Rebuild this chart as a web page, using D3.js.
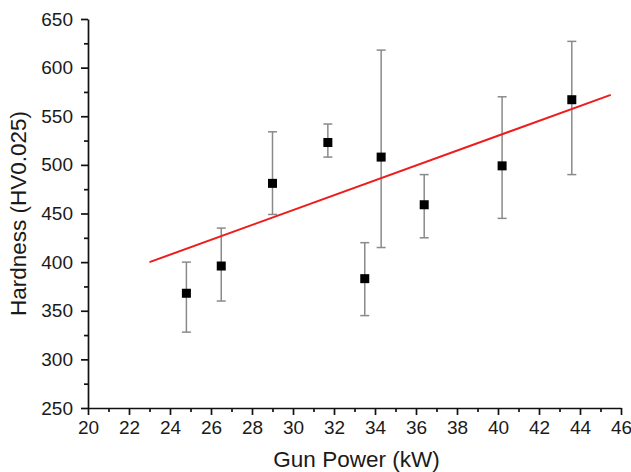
<!DOCTYPE html>
<html>
<head>
<meta charset="utf-8">
<script src="https://cdn.jsdelivr.net/npm/d3@7"></script>
<style>
  body { margin: 0; background: #fff; }
  svg { display: block; font-family: "Liberation Sans", Arial, sans-serif; }
</style>
</head>
<body>
<div id="container"></div>
<script>
// data
const gunPower = [24.8, 26.5, 29.0, 31.7, 33.5, 34.3, 36.4, 40.2, 43.6];
const hardness = [368, 396, 481, 523, 383, 508, 459, 499, 567];
const errLow   = [328, 360, 449, 508, 345, 415, 425, 445, 490];
const errHigh  = [400, 435, 534, 542, 420, 618, 490, 570, 627];
const fitX = [23, 45.5];
const fitY = [400, 572];
const xTicks = d3.range(20, 47, 2);
const yTicks = d3.range(250, 651, 50);

// layout
const width = 631, height = 472;
const margin = {left: 88, right: 10, top: 19, bottom: 64};

const x = d3.scaleLinear().domain([20, 46]).range([margin.left, 621]);
const y = d3.scaleLinear().domain([250, 650]).range([408, margin.top]);

const svg = d3.select("#container").append("svg")
  .attr("width", width)
  .attr("height", height);

// minor ticks
svg.append("g")
  .attr("transform", `translate(0,${y(250)})`)
  .call(d3.axisBottom(x).tickValues(d3.range(21, 46, 2)).tickSize(4).tickFormat(""))
  .call(g => g.select(".domain").remove());
svg.append("g")
  .attr("transform", `translate(${x(20)},0)`)
  .call(d3.axisLeft(y).tickValues(d3.range(275, 650, 50)).tickSize(4).tickFormat(""))
  .call(g => g.select(".domain").remove());

// major axes
const xAxis = svg.append("g")
  .attr("transform", `translate(0,${y(250)})`)
  .call(d3.axisBottom(x).tickValues(xTicks).tickSize(7).tickSizeOuter(0).tickPadding(6));
const yAxis = svg.append("g")
  .attr("transform", `translate(${x(20)},0)`)
  .call(d3.axisLeft(y).tickValues(yTicks).tickSize(7).tickSizeOuter(0).tickPadding(8));

[xAxis, yAxis].forEach(g => {
  g.selectAll("text").attr("font-size", 19).attr("fill", "#1a1a1a")
    .attr("font-family", "'Liberation Sans', Arial, sans-serif");
});
svg.selectAll("g line, g path").attr("stroke", "#111").attr("stroke-width", 1.7);

// axis titles
svg.append("text")
  .attr("x", (x(20) + x(46)) / 2 + 2)
  .attr("y", 467)
  .attr("text-anchor", "middle")
  .attr("font-size", 22.5)
  .attr("fill", "#1a1a1a")
  .text("Gun Power (kW)");

svg.append("text")
  .attr("transform", `translate(26,${(y(250) + y(650)) / 2}) rotate(-90)`)
  .attr("text-anchor", "middle")
  .attr("font-size", 22.5)
  .attr("fill", "#1a1a1a")
  .text("Hardness (HV0.025)");

// error bars
const pts = gunPower.map((g, i) => ({x: g, y: hardness[i], lo: errLow[i], hi: errHigh[i]}));
const bars = svg.append("g").attr("stroke", "#8a8a8a").attr("stroke-width", 1.5);
bars.selectAll("line.v").data(pts).enter().append("line")
  .attr("x1", d => x(d.x)).attr("x2", d => x(d.x))
  .attr("y1", d => y(d.lo)).attr("y2", d => y(d.hi));
bars.selectAll("line.cap").data(pts.flatMap(d => [[d.x, d.lo], [d.x, d.hi]])).enter().append("line")
  .attr("x1", d => x(d[0]) - 4.5).attr("x2", d => x(d[0]) + 4.5)
  .attr("y1", d => y(d[1])).attr("y2", d => y(d[1]));

// fit line
svg.append("line")
  .attr("x1", x(fitX[0])).attr("y1", y(fitY[0]))
  .attr("x2", x(fitX[1])).attr("y2", y(fitY[1]))
  .attr("stroke", "#ee1c1c")
  .attr("stroke-width", 2);

// markers
svg.append("g").selectAll("rect").data(pts).enter().append("rect")
  .attr("x", d => x(d.x) - 4.5)
  .attr("y", d => y(d.y) - 4.5)
  .attr("width", 9).attr("height", 9)
  .attr("fill", "#000");
</script>
</body>
</html>
